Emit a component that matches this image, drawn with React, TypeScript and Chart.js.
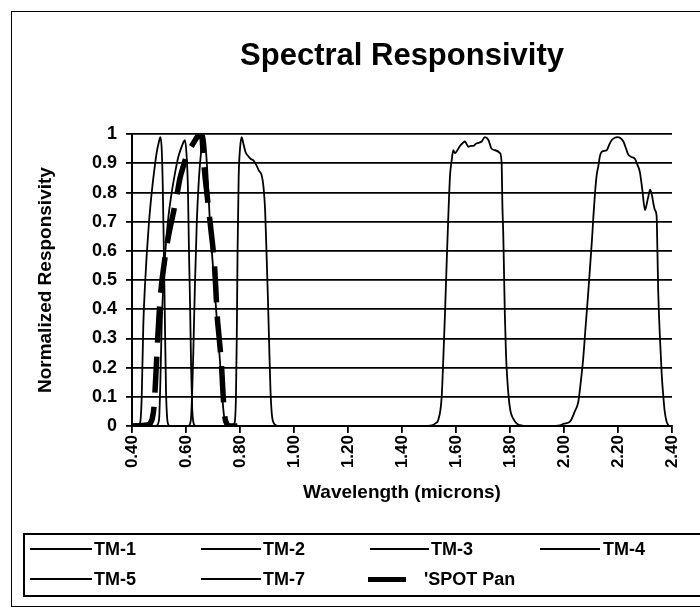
import React, { useEffect, useRef } from "react";
import { Chart, registerables } from "chart.js";

Chart.register(...registerables);

// ---- Data (wavelength in microns, normalized responsivity) ----
const TM1: [number, number][] = [
  [0.42, 0], [0.43, 0.01], [0.436, 0.1], [0.442, 0.35], [0.448, 0.48], [0.454, 0.58],
  [0.463, 0.7], [0.473, 0.8], [0.483, 0.88], [0.492, 0.94], [0.5, 0.975], [0.505, 0.99],
  [0.51, 0.95], [0.514, 0.82], [0.518, 0.6], [0.522, 0.35], [0.526, 0.12], [0.53, 0.03], [0.536, 0],
];
const TM2: [number, number][] = [
  [0.49, 0], [0.5, 0.02], [0.505, 0.15], [0.51, 0.35], [0.516, 0.48], [0.522, 0.58],
  [0.534, 0.71], [0.547, 0.8], [0.56, 0.87], [0.571, 0.92], [0.583, 0.955], [0.592, 0.975],
  [0.596, 0.98], [0.602, 0.93], [0.607, 0.82], [0.611, 0.6], [0.615, 0.42], [0.619, 0.2],
  [0.623, 0.06], [0.628, 0.01], [0.635, 0],
];
const TM3: [number, number][] = [
  [0.61, 0], [0.618, 0.02], [0.623, 0.12], [0.627, 0.25], [0.633, 0.48], [0.64, 0.7],
  [0.648, 0.85], [0.656, 0.94], [0.663, 0.99], [0.668, 0.995], [0.675, 0.93], [0.682, 0.82],
  [0.689, 0.69], [0.698, 0.57], [0.707, 0.46], [0.716, 0.34], [0.726, 0.22], [0.733, 0.12],
  [0.739, 0.05], [0.745, 0.01], [0.752, 0],
];
const TM4: [number, number][] = [
  [0.77, 0], [0.78, 0.01], [0.785, 0.1], [0.788, 0.3], [0.791, 0.6], [0.795, 0.85],
  [0.8, 0.95], [0.806, 0.99], [0.812, 0.97], [0.82, 0.94], [0.83, 0.925], [0.84, 0.915],
  [0.85, 0.91], [0.86, 0.895], [0.87, 0.875], [0.88, 0.86], [0.887, 0.82], [0.893, 0.74],
  [0.898, 0.6], [0.903, 0.45], [0.908, 0.28], [0.913, 0.12], [0.918, 0.04], [0.925, 0.01], [0.94, 0],
];
const TM5: [number, number][] = [
  [1.49, 0], [1.51, 0.002], [1.525, 0.01], [1.534, 0.02], [1.547, 0.1], [1.553, 0.23],
  [1.559, 0.38], [1.566, 0.575], [1.572, 0.73], [1.578, 0.86], [1.584, 0.91], [1.59, 0.945],
  [1.596, 0.935], [1.605, 0.945], [1.615, 0.96], [1.625, 0.97], [1.633, 0.975], [1.64, 0.965],
  [1.646, 0.957], [1.655, 0.96], [1.664, 0.96], [1.675, 0.968], [1.683, 0.97], [1.695, 0.975],
  [1.707, 0.99], [1.72, 0.98], [1.732, 0.95], [1.745, 0.945], [1.763, 0.935], [1.769, 0.9],
  [1.772, 0.75], [1.775, 0.66], [1.778, 0.52], [1.781, 0.38], [1.785, 0.25], [1.79, 0.16],
  [1.795, 0.1], [1.802, 0.05], [1.812, 0.025], [1.825, 0.008], [1.85, 0],
];
const TM7: [number, number][] = [
  [1.96, 0], [1.985, 0.002], [2.0, 0.008], [2.022, 0.015], [2.04, 0.05], [2.053, 0.083],
  [2.062, 0.15], [2.071, 0.23], [2.08, 0.34], [2.09, 0.46], [2.103, 0.63], [2.109, 0.72],
  [2.115, 0.8], [2.121, 0.86], [2.127, 0.89], [2.133, 0.925], [2.14, 0.94], [2.158, 0.945],
  [2.168, 0.965], [2.177, 0.98], [2.188, 0.988], [2.197, 0.99], [2.207, 0.988], [2.22, 0.975],
  [2.23, 0.95], [2.238, 0.93], [2.25, 0.922], [2.263, 0.915], [2.272, 0.895], [2.281, 0.87],
  [2.29, 0.81], [2.3, 0.74], [2.305, 0.755], [2.312, 0.785], [2.319, 0.81], [2.326, 0.79],
  [2.331, 0.763], [2.337, 0.74], [2.343, 0.72], [2.346, 0.6], [2.349, 0.46], [2.355, 0.31],
  [2.362, 0.175], [2.368, 0.1], [2.373, 0.05], [2.38, 0.015], [2.388, 0],
];
const SPOT_PAN: [number, number][] = [
  [0.4, 0], [0.456, 0.004], [0.468, 0.01], [0.475, 0.025], [0.482, 0.07], [0.487, 0.15],
  [0.492, 0.24], [0.497, 0.33], [0.503, 0.42], [0.51, 0.49], [0.522, 0.575], [0.535, 0.65],
  [0.553, 0.73], [0.566, 0.79], [0.578, 0.85], [0.59, 0.89], [0.6, 0.92], [0.615, 0.95],
  [0.628, 0.97], [0.641, 0.99], [0.65, 1.0], [0.658, 1.0], [0.663, 0.94], [0.67, 0.86],
  [0.677, 0.8], [0.683, 0.75], [0.689, 0.7], [0.695, 0.65], [0.701, 0.6], [0.707, 0.53],
  [0.712, 0.44], [0.716, 0.37], [0.72, 0.33], [0.725, 0.28], [0.732, 0.2], [0.736, 0.13],
  [0.74, 0.07], [0.744, 0.03], [0.75, 0.01], [0.757, 0], [0.79, 0],
];

const SERIES_LABELS = ["TM-1", "TM-2", "TM-3", "TM-4", "TM-5", "TM-7", "'SPOT Pan"];
const SERIES_DATA = [TM1, TM2, TM3, TM4, TM5, TM7, SPOT_PAN];

const X_MIN = 0.4;
const X_MAX = 2.4;
const X_STEP = 0.2;
const Y_MIN = 0;
const Y_MAX = 1;
const Y_STEP = 0.1;

const TITLE = "Spectral Responsivity";
const X_TITLE = "Wavelength (microns)";
const Y_TITLE = "Normalized Responsivity";

const FONT = "'Liberation Sans', Arial, Helvetica, sans-serif";

// legend layout (positions only)
const LEGEND_ITEMS = [
  { row: 0, lineLeft: 30, lineRight: 92, textLeft: 94 },
  { row: 0, lineLeft: 201, lineRight: 261, textLeft: 263 },
  { row: 0, lineLeft: 370, lineRight: 429, textLeft: 431 },
  { row: 0, lineLeft: 540, lineRight: 600, textLeft: 603 },
  { row: 1, lineLeft: 30, lineRight: 92, textLeft: 94 },
  { row: 1, lineLeft: 201, lineRight: 261, textLeft: 263 },
  { row: 1, lineLeft: 368, lineRight: 406, textLeft: 424 },
];
const ROW_Y = [549, 579];

export default function App() {
  const canvasRef = useRef<HTMLCanvasElement | null>(null);

  useEffect(() => {
    if (!canvasRef.current) return;
    const datasets = SERIES_DATA.map((series, i) => {
      const isSpot = i === SERIES_DATA.length - 1;
      return {
        label: SERIES_LABELS[i],
        data: series.map(([x, y]) => ({ x, y })),
        borderColor: "#000",
        backgroundColor: "#000",
        borderWidth: isSpot ? 5.5 : 1.8,
        borderDash: isSpot ? [36, 14] : [],
        pointRadius: 0,
        fill: false,
        cubicInterpolationMode: "monotone" as const,
        tension: 0.4,
      };
    });

    const chart = new Chart(canvasRef.current, {
      type: "line",
      data: { datasets },
      options: {
        animation: false,
        responsive: false,
        devicePixelRatio: 1,
        layout: { padding: { top: 0, left: 0, right: 28, bottom: 100 } },
        plugins: {
          legend: { display: false },
          tooltip: { enabled: false },
          title: {
            display: true,
            text: TITLE,
            fullSize: false,
            color: "#000",
            font: { family: FONT, size: 31, weight: "bold" },
            padding: { top: 38, bottom: 59 },
          },
        },
        scales: {
          x: {
            type: "linear",
            min: X_MIN,
            max: X_MAX,
            afterFit: (scale: any) => {
              scale.height = 84;
            },
            afterBuildTicks: (scale: any) => {
              const ticks = [];
              const n = Math.round((X_MAX - X_MIN) / X_STEP);
              for (let i = 0; i <= n; i++) ticks.push({ value: X_MIN + i * X_STEP });
              scale.ticks = ticks;
            },
            ticks: {
              minRotation: 90,
              maxRotation: 90,
              autoSkip: false,
              padding: 2,
              color: "#000",
              font: { family: FONT, size: 17, weight: "bold" },
              callback: (v: any) => Number(v).toFixed(2),
            },
            grid: {
              display: true,
              drawOnChartArea: false,
              drawTicks: true,
              tickLength: 7,
              color: "#000",
              lineWidth: 1.8,
            },
            border: { display: true, color: "#000", width: 2 },
            title: {
              display: true,
              text: X_TITLE,
              color: "#000",
              font: { family: FONT, size: 19, weight: "bold" },
              padding: { top: 0, bottom: 6 },
            },
          },
          y: {
            type: "linear",
            min: Y_MIN,
            max: Y_MAX,
            afterFit: (scale: any) => {
              scale.width = 132;
            },
            ticks: {
              stepSize: Y_STEP,
              padding: 9,
              color: "#000",
              font: { family: FONT, size: 18, weight: "bold" },
              callback: (v: any) => String(Math.round(Number(v) * 10) / 10),
            },
            grid: {
              display: true,
              drawTicks: true,
              tickLength: 6,
              color: "#000",
              lineWidth: 1.8,
            },
            border: { display: true, color: "#000", width: 2 },
            title: {
              display: true,
              text: Y_TITLE,
              color: "#000",
              font: { family: FONT, size: 19, weight: "bold" },
              padding: { top: 34, bottom: 0 },
            },
          },
        },
      },
    });
    return () => chart.destroy();
  }, []);

  return (
    <div
      style={{
        position: "absolute",
        left: 0,
        top: 0,
        width: 700,
        height: 610,
        overflow: "hidden",
        background: "#fff",
        fontFamily: FONT,
      }}
    >
      <canvas ref={canvasRef} width={700} height={610} style={{ position: "absolute", left: 0, top: 0 }} />
      <div
        style={{
          position: "absolute",
          left: 11,
          top: 11,
          width: 700,
          height: 596,
          borderLeft: "1.5px solid #000",
          borderTop: "1.5px solid #000",
          borderBottom: "1.5px solid #000",
          boxSizing: "border-box",
          pointerEvents: "none",
        }}
      />
      <div
        style={{
          position: "absolute",
          left: 23,
          top: 533,
          width: 690,
          height: 64,
          border: "2px solid #000",
          boxSizing: "border-box",
        }}
      />
      {LEGEND_ITEMS.map((it, i) => {
        const isSpot = i === LEGEND_ITEMS.length - 1;
        const cy = ROW_Y[it.row];
        const h = isSpot ? 5 : 1.8;
        return (
          <React.Fragment key={SERIES_LABELS[i]}>
            <div
              style={{
                position: "absolute",
                left: it.lineLeft,
                top: cy - h / 2,
                width: it.lineRight - it.lineLeft,
                height: h,
                background: "#000",
              }}
            />
            <div
              style={{
                position: "absolute",
                left: it.textLeft,
                top: cy - 11,
                height: 22,
                lineHeight: "22px",
                fontSize: 18,
                fontWeight: "bold",
                color: "#000",
                whiteSpace: "nowrap",
              }}
            >
              {SERIES_LABELS[i]}
            </div>
          </React.Fragment>
        );
      })}
    </div>
  );
}
